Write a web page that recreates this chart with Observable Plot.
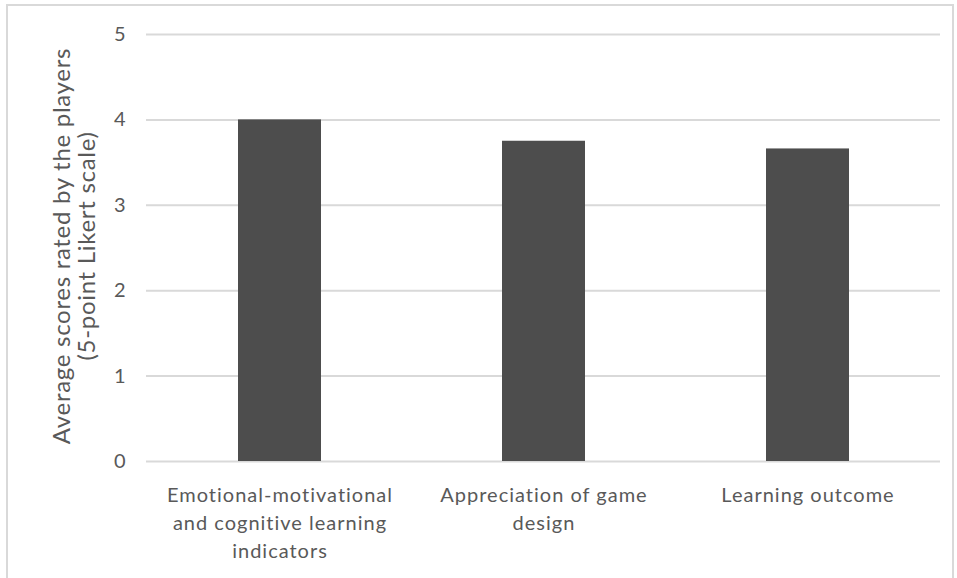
<!DOCTYPE html>
<html>
<head>
<meta charset="utf-8">
<script src="https://cdn.jsdelivr.net/npm/d3@7"></script>
<script src="https://cdn.jsdelivr.net/npm/@observablehq/plot@0.6"></script>
<style>
  html, body { margin: 0; padding: 0; background: #fff; }
  #wrap { position: relative; width: 957px; height: 578px; overflow: hidden; }
  #border { position: absolute; left: 6px; top: 4px; width: 948px; height: 590px; border: 2px solid #d9d9d9; pointer-events: none; box-sizing: border-box; }
  #wrap svg g[aria-label="x-axis tick label"] text { letter-spacing: 1px; }
  #wrap svg g[aria-label="text"] text { letter-spacing: 0.7px; }
</style>
</head>
<body>
<div id="wrap"><div id="border"></div></div>
<script>
const categories = [
  "Emotional-motivational and cognitive learning indicators",
  "Appreciation of game design",
  "Learning outcome"
];
const values = [4.0, 3.75, 3.66];
const tickLabels = [
  "Emotional-motivational\nand cognitive learning\nindicators",
  "Appreciation of game\ndesign",
  "Learning outcome"
];
const yTicks = [0, 1, 2, 3, 4, 5];
const yTitle = "Average scores rated by the players\n(5-point Likert scale)";

const data = categories.map((c, i) => ({category: c, value: values[i]}));
const labelOf = new Map(categories.map((c, i) => [c, tickLabels[i]]));

const chart = Plot.plot({
  width: 957,
  height: 578,
  marginTop: 34,
  marginBottom: 117,
  marginLeft: 146,
  marginRight: 17,
  style: {fontFamily: "Lato, 'Open Sans', sans-serif", color: "#595959", background: "transparent"},
  x: {domain: categories, paddingInner: 0.686, paddingOuter: 0.343, label: null},
  y: {domain: [0, 5], label: null},
  marks: [
    Plot.gridY(yTicks, {stroke: "#d9d9d9", strokeOpacity: 1, strokeWidth: 2}),
    Plot.barY(data, {x: "category", y: "value", fill: "#4d4d4d"}),
    Plot.axisY(yTicks, {tickSize: 0, tickPadding: 21, fontSize: 20, fill: "#595959", tickFormat: d => String(d), label: null}),
    Plot.axisX({tickSize: 0, tickPadding: 21, fontSize: 20, lineHeight: 1.4, fill: "#595959", tickFormat: d => labelOf.get(d), label: null}),
    Plot.text([yTitle], {frameAnchor: "left", text: d => d, rotate: -90, dx: -72, dy: -2, fontSize: 24, lineHeight: 1.05, fill: "#595959", textAnchor: "middle"})
  ]
});
document.getElementById("wrap").prepend(chart);
</script>
</body>
</html>
